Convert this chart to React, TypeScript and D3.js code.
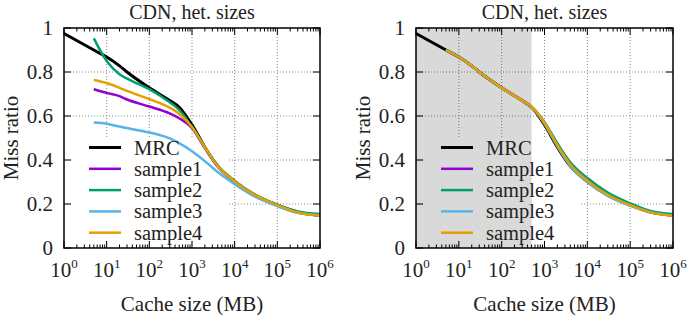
import React from 'react';
import * as d3 from 'd3';

// cache sizes in MB (shared x positions)
const sizesMB = [1, 5, 10, 20, 30, 100, 300, 500, 1000, 2000, 4000, 10000, 30000, 100000, 300000, 1000000];

const mrc = [0.975, 0.9, 0.868, 0.828, 0.8, 0.728, 0.67, 0.64, 0.56, 0.458, 0.372, 0.302, 0.24, 0.195, 0.163, 0.148];

// left panel samples
const leftSample1 = [null, 0.722, 0.705, 0.69, 0.675, 0.643, 0.612, 0.59, 0.545, 0.455, 0.372, 0.303, 0.24, 0.195, 0.162, 0.148];
const leftSample2 = [null, 0.953, 0.85, 0.79, 0.77, 0.722, 0.662, 0.628, 0.55, 0.458, 0.375, 0.305, 0.243, 0.197, 0.166, 0.155];
const leftSample3 = [null, 0.57, 0.565, 0.552, 0.545, 0.525, 0.498, 0.477, 0.44, 0.395, 0.345, 0.29, 0.233, 0.19, 0.16, 0.149];
const leftSample4 = [null, 0.764, 0.75, 0.728, 0.714, 0.677, 0.638, 0.61, 0.55, 0.458, 0.372, 0.302, 0.24, 0.195, 0.161, 0.146];

// right panel samples
const rightSample1 = [null, 0.9, 0.868, 0.828, 0.8, 0.728, 0.67, 0.64, 0.565, 0.464, 0.378, 0.305, 0.242, 0.196, 0.163, 0.148];
const rightSample2 = [null, 0.9, 0.868, 0.828, 0.8, 0.728, 0.67, 0.642, 0.572, 0.476, 0.39, 0.318, 0.252, 0.203, 0.168, 0.154];
const rightSample3 = [null, 0.9, 0.868, 0.828, 0.8, 0.728, 0.67, 0.64, 0.565, 0.462, 0.372, 0.3, 0.237, 0.193, 0.162, 0.148];
const rightSample4 = [null, 0.9, 0.868, 0.828, 0.8, 0.728, 0.67, 0.642, 0.568, 0.468, 0.38, 0.306, 0.242, 0.195, 0.162, 0.146];

const seriesNames = ['MRC', 'sample1', 'sample2', 'sample3', 'sample4'];
const seriesColors = ['#000000', '#9400d3', '#009e73', '#56b4e9', '#e69f00'];
const xTickExps = [0, 1, 2, 3, 4, 5, 6];
const minorMultipliers = [2, 3, 4, 5, 6, 7, 8, 9];
const yTicks = [0, 0.2, 0.4, 0.6, 0.8, 1];
const shadeUpToMB = 500;

const TOP = 28;
const BOTTOM = 248;
const TEXT = '#222';
const SERIF = "'Liberation Serif', 'Times New Roman', Tinos, serif";
const serif: React.CSSProperties = { fontFamily: SERIF };
const sheet = `svg.mrc text, svg.mrc tspan { font-family: ${SERIF} !important; }`;

type Pt = [number, number | null];

interface PanelProps {
  left: number;
  right: number;
  series: (number | null)[][];
  shaded: boolean;
}

const Panel: React.FC<PanelProps> = ({ left, right, series, shaded }) => {
  const x = d3.scaleLog().domain([1, 1e6]).range([left, right]);
  const y = d3.scaleLinear().domain([0, 1]).range([BOTTOM, TOP]);
  const line = d3.line<Pt>()
    .defined(d => d[1] !== null)
    .x(d => x(d[0]))
    .y(d => y(d[1] as number))
    .curve(d3.curveMonotoneX);
  const ly0 = 147.5;
  const lstep = 21.3;
  const cx = (left + right) / 2;

  return (
    <g>
      {/* grid */}
      <g stroke="#8a8a8a" strokeWidth={1} strokeDasharray="1,2">
        {xTickExps.slice(1, -1).map(e => (
          <line key={`gx${e}`} x1={x(10 ** e)} x2={x(10 ** e)} y1={TOP} y2={BOTTOM} />
        ))}
        {yTicks.slice(1, -1).map(v => (
          <line key={`gy${v}`} x1={left} x2={right} y1={y(v)} y2={y(v)} />
        ))}
      </g>

      {/* legend background hides grid */}
      <rect x={left + 8} y={137} width={157} height={104} fill="#fff" />

      {shaded && (
        <rect x={x(1)} y={TOP} width={x(shadeUpToMB) - x(1)} height={BOTTOM - TOP} fill="#000" fillOpacity={0.15} />
      )}

      {/* curves */}
      {series.map((vals, i) => (
        <path
          key={`s${i}`}
          d={line(sizesMB.map((s, k) => [s, vals[k]] as Pt)) || ''}
          fill="none"
          stroke={seriesColors[i]}
          strokeWidth={i === 0 ? 3 : 2.5}
          strokeLinejoin="round"
        />
      ))}

      {/* legend */}
      {seriesNames.map((name, i) => {
        const yy = ly0 + i * lstep;
        return (
          <g key={name}>
            <line x1={left + 25} x2={left + 57} y1={yy} y2={yy} stroke={seriesColors[i]} strokeWidth={i === 0 ? 3 : 2.5} />
            <text x={left + 70} y={yy + 7} fontSize={20.5} fill={TEXT} fontFamily={SERIF} style={serif}>{name}</text>
          </g>
        );
      })}

      {/* frame */}
      <rect x={left} y={TOP} width={right - left} height={BOTTOM - TOP} fill="none" stroke="#000" strokeWidth={1.5} />

      {/* ticks */}
      <g stroke="#000" strokeWidth={1}>
        {xTickExps.map(e => (
          <g key={`tx${e}`}>
            <line x1={x(10 ** e)} x2={x(10 ** e)} y1={BOTTOM} y2={BOTTOM - 7} />
            <line x1={x(10 ** e)} x2={x(10 ** e)} y1={TOP} y2={TOP + 7} />
            {e < 6 && minorMultipliers.map(m => (
              <g key={m}>
                <line x1={x(m * 10 ** e)} x2={x(m * 10 ** e)} y1={BOTTOM} y2={BOTTOM - 3.5} />
                <line x1={x(m * 10 ** e)} x2={x(m * 10 ** e)} y1={TOP} y2={TOP + 3.5} />
              </g>
            ))}
          </g>
        ))}
        {yTicks.map(v => (
          <g key={`ty${v}`}>
            <line x1={left} x2={left + 7} y1={y(v)} y2={y(v)} />
            <line x1={right} x2={right - 7} y1={y(v)} y2={y(v)} />
          </g>
        ))}
      </g>

      {/* tick labels */}
      {xTickExps.map(e => (
        <text key={`lx${e}`} x={x(10 ** e)} y={277} textAnchor="middle" fontSize={21} fill={TEXT} fontFamily={SERIF} style={serif}>
          <tspan>10</tspan>
          <tspan fontSize={13} dy={-9}>{e}</tspan>
        </text>
      ))}
      {yTicks.map(v => (
        <text key={`ly${v}`} x={left - 11} y={y(v) + 7} textAnchor="end" fontSize={21} fill={TEXT} fontFamily={SERIF} style={serif}>
          {d3.format('~g')(v)}
        </text>
      ))}

      {/* titles */}
      <text x={cx} y={19} textAnchor="middle" fontSize={20} fill={TEXT} fontFamily={SERIF} style={serif}>CDN, het. sizes</text>
      <text x={cx} y={311} textAnchor="middle" fontSize={21} fill={TEXT} fontFamily={SERIF} style={serif}>Cache size (MB)</text>
      <text
        transform={`translate(${left - 46.5},${(TOP + BOTTOM) / 2}) rotate(-90)`}
        textAnchor="middle"
        fontSize={21}
        fill={TEXT}
        fontFamily={SERIF}
        style={serif}
      >
        Miss ratio
      </text>
    </g>
  );
};

const App: React.FC = () => (
  <svg
    className="mrc"
    width={687}
    height={315}
    viewBox="0 0 687 315"
    fontFamily={SERIF}
    style={{ position: 'absolute', left: 0, top: 0, background: '#fff', fontFamily: SERIF }}
  >
    <style>{sheet}</style>
    <Panel left={64} right={320} series={[mrc, leftSample1, leftSample2, leftSample3, leftSample4]} shaded={false} />
    <Panel left={416} right={673} series={[mrc, rightSample1, rightSample2, rightSample3, rightSample4]} shaded />
  </svg>
);

export default App;
